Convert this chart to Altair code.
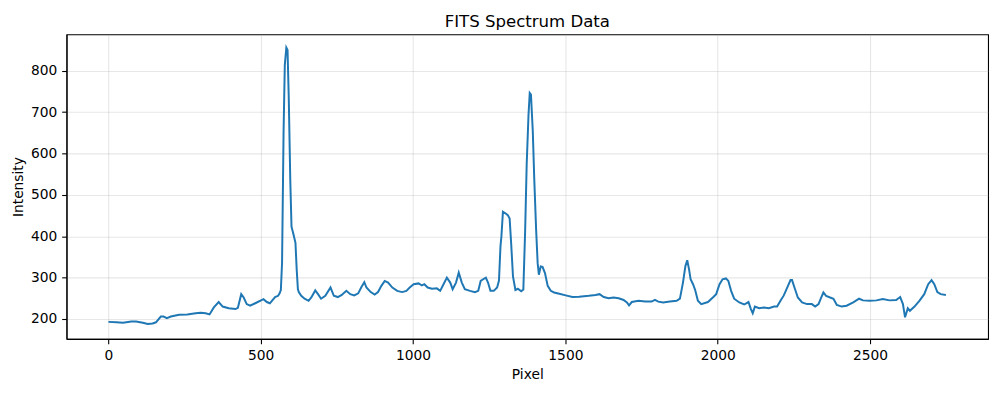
import altair as alt
import pandas as pd

pixel = [0, 26, 48, 75, 91, 113, 129, 145, 156, 172, 181, 192, 205, 232, 259, 286, 303, 319, 332,
         346, 362, 375, 395, 417, 425, 436, 444, 454, 465, 482, 509, 520, 530, 547, 557, 562, 566,
         570, 575, 579, 584, 588, 592, 597, 601, 607, 614, 618, 622, 625, 633, 644, 657, 666, 679,
         688, 698, 712, 729, 740, 753, 766, 781, 794, 807, 820, 831, 840, 847, 861, 874, 885, 896,
         907, 918, 932, 948, 964, 978, 989, 1002, 1018, 1029, 1037, 1048, 1062, 1078, 1089, 1100,
         1111, 1122, 1130, 1141, 1150, 1160, 1170, 1187, 1203, 1214, 1222, 1230, 1239, 1246, 1254,
         1265, 1276, 1282, 1287, 1290, 1295, 1304, 1311, 1317, 1322, 1328, 1336, 1344, 1355, 1362,
         1368, 1373, 1379, 1383, 1387, 1393, 1398, 1404, 1409, 1413, 1419, 1425, 1433, 1442, 1452,
         1463, 1480, 1501, 1523, 1545, 1577, 1599, 1612, 1626, 1642, 1658, 1675, 1691, 1702, 1709,
         1718, 1740, 1762, 1783, 1794, 1805, 1821, 1843, 1865, 1876, 1886, 1894, 1900, 1906, 1911,
         1919, 1926, 1935, 1946, 1968, 1984, 1995, 2006, 2016, 2027, 2035, 2044, 2054, 2071, 2087,
         2101, 2109, 2115, 2122, 2136, 2152, 2168, 2185, 2195, 2206, 2217, 2226, 2239, 2244, 2252,
         2263, 2277, 2293, 2309, 2320, 2331, 2340, 2347, 2356, 2369, 2380, 2391, 2407, 2423, 2445,
         2464, 2477, 2499, 2521, 2542, 2564, 2586, 2599, 2608, 2615, 2624, 2631, 2646, 2662, 2678,
         2691, 2702, 2711, 2721, 2732, 2749]

intensity = [193, 192, 191, 194, 194, 191, 188, 189, 192, 206, 206, 202, 206, 210, 211, 214, 215, 214, 211,
             228, 241, 230, 226, 224, 227, 260, 252, 236, 232, 238, 248, 241, 238, 253, 256, 262, 270,
             336, 655, 814, 856, 850, 734, 535, 423, 406, 384, 320, 272, 265, 256, 249, 244, 252, 269,
             260, 249, 256, 276, 256, 253, 258, 268, 260, 257, 262, 278, 289, 276, 265, 259, 265, 280,
             292, 288, 276, 268, 265, 268, 276, 284, 286, 281, 284, 276, 273, 274, 268, 284,
             300, 288, 272, 288, 312, 288, 272, 268, 265, 268, 292, 296, 300, 288, 268,
             268, 276, 293, 376, 399, 459, 455, 451, 443, 383, 303, 270, 273, 267, 271,
             415, 574, 694, 746, 742, 654, 535, 415, 335, 307, 327, 326, 311, 280, 268,
             264, 261, 257, 253, 254, 256, 258, 260, 253, 250, 252, 250, 246, 240, 233,
             241, 244, 242, 242, 246, 242, 240, 242, 244, 249, 288, 328, 342, 320, 296,
             284, 270, 244, 236, 241, 252, 260, 284, 296, 298, 292, 268, 249, 240, 235,
             241, 224, 214, 230, 226, 228, 226, 230, 230, 244, 257, 272, 294, 294, 276,
             252, 240, 236, 236, 230, 236, 252, 264, 256, 252, 249, 234, 230, 232, 240,
             249, 245, 244, 245, 248, 245, 246, 253, 236, 204, 226, 220, 230, 244, 260,
             284, 294, 284, 265, 260, 258]

x_ticks = [0, 500, 1000, 1500, 2000, 2500]
y_ticks = [200, 300, 400, 500, 600, 700, 800]

df = pd.DataFrame({"Pixel": pixel, "Intensity": intensity})

FONT = "DejaVu Sans"

chart = (
    alt.Chart(df)
    .mark_line(color="#1f77b4", strokeWidth=2, clip=True)
    .encode(
        x=alt.X(
            "Pixel:Q",
            scale=alt.Scale(domain=[-137.5, 2887.5], nice=False, zero=False),
            axis=alt.Axis(values=x_ticks, title="Pixel", format="d"),
        ),
        y=alt.Y(
            "Intensity:Q",
            scale=alt.Scale(domain=[152, 888], nice=False, zero=False),
            axis=alt.Axis(values=y_ticks, title="Intensity", format="d"),
        ),
    )
    .properties(
        width=929,
        height=307,
        title=alt.TitleParams(
            "FITS Spectrum Data",
            font=FONT,
            fontSize=16.7,
            fontWeight="normal",
            color="black",
            anchor="middle",
            baseline="alphabetic",
            offset=8,
            dy=17,
        ),
        autosize=alt.AutoSizeParams(type="none"),
        padding={"left": 59, "top": 25, "right": 9, "bottom": 45},
    )
    .configure_view(stroke="black", strokeWidth=1.1)
    .configure_axis(
        labelFont=FONT,
        labelFontSize=13.9,
        labelColor="black",
        titleFont=FONT,
        titleFontSize=13.9,
        titleFontWeight="normal",
        titleColor="black",
        domainColor="black",
        domainWidth=1.1,
        tickColor="black",
        tickSize=4.9,
        tickWidth=1.1,
        labelPadding=4.9,
        titlePadding=5.5,
        grid=True,
        gridColor="#b0b0b0",
        gridOpacity=0.3,
        gridWidth=1.1,
    )
)

chart.save("out.html", embed_options={"renderer": "svg", "actions": False})
